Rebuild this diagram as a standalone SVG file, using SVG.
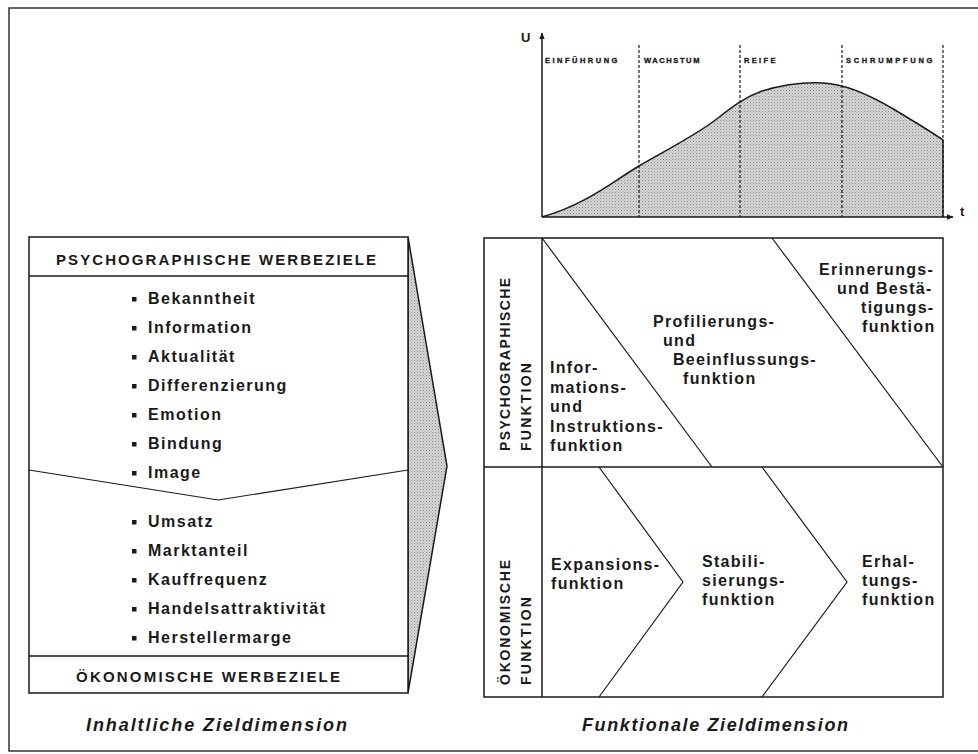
<svg xmlns="http://www.w3.org/2000/svg" width="978" height="754" viewBox="0 0 978 754">
<style>
  .ln{fill:none;stroke:#1a1a1a;stroke-width:1.5}
  .thin{fill:none;stroke:#1a1a1a;stroke-width:1.2}
  .dash{fill:none;stroke:#1a1a1a;stroke-width:1.2;stroke-dasharray:3 2}
  .box{fill:#fff;stroke:#1a1a1a;stroke-width:1.5}
  text{font-family:"Liberation Sans",Arial,sans-serif;font-weight:bold;fill:#1a1a1a}
  .hd{font-size:15px}
  .it{font-size:16px;letter-spacing:1.5px}
  .fn{font-size:16px;letter-spacing:1.3px}
  .ph{font-size:7.5px;letter-spacing:2.6px;stroke:#1a1a1a;stroke-width:0.35}
  .vl{font-size:14px}
  .ti{font-size:18px;font-style:italic}
  .ax{font-size:13px}
</style>
<defs>
  <pattern id="stip" width="3" height="3" patternUnits="userSpaceOnUse">
    <rect width="3" height="3" fill="#d6d6d6"/>
    <rect x="0" y="0" width="1" height="1" fill="#8c8c8c"/>
    <rect x="1.5" y="1.5" width="1" height="1" fill="#a8a8a8"/>
  </pattern>
  <marker id="arr" viewBox="0 0 10 10" refX="9" refY="5" markerWidth="7" markerHeight="7" orient="auto" markerUnits="userSpaceOnUse">
    <path d="M0,1 L10,5 L0,9 Z" fill="#1a1a1a"/>
  </marker>
</defs>

<rect x="9" y="8" width="980" height="743" fill="none" stroke="#333" stroke-width="1.5"/>

<g id="lifecycle-chart">
  <path d="M542,217 C585,205 612,182 639,166 C668,149 698,134 718,118 C732,107 745,97 762,91 C782,85 802,82 823,83 C846,84 870,95 895,110 C915,122 930,131 943,140 L943,217 Z" fill="url(#stip)" stroke="none"/>
  <path d="M542,217 C585,205 612,182 639,166 C668,149 698,134 718,118 C732,107 745,97 762,91 C782,85 802,82 823,83 C846,84 870,95 895,110 C915,122 930,131 943,140 L943,217" class="ln"/>
  <line x1="639" y1="45" x2="639" y2="217" class="dash"/>
  <line x1="740" y1="45" x2="740" y2="217" class="dash"/>
  <line x1="842" y1="45" x2="842" y2="217" class="dash"/>
  <line x1="943" y1="45" x2="943" y2="217" class="dash"/>
  <line x1="542" y1="217" x2="542" y2="33" class="ln" stroke-width="2" marker-end="url(#arr)"/>
  <line x1="542" y1="217" x2="953" y2="217" class="ln" stroke-width="2" marker-end="url(#arr)"/>
  <text class="ax" x="521" y="42">U</text>
  <text class="ax" x="960" y="216">t</text>
  <text class="ph" x="545" y="63" textLength="75" lengthAdjust="spacing">EINFÜHRUNG</text>
  <text class="ph" x="644" y="63" textLength="58" lengthAdjust="spacing">WACHSTUM</text>
  <text class="ph" x="744" y="63" textLength="34" lengthAdjust="spacing">REIFE</text>
  <text class="ph" x="846" y="63" textLength="89" lengthAdjust="spacing">SCHRUMPFUNG</text>
</g>

<g id="arrow-wedge">
  <path d="M408,237 L447,466 L408,693 Z" fill="url(#stip)" stroke="#1a1a1a" stroke-width="1.5"/>
</g>

<g id="inhaltliche-box">
  <rect x="29" y="237" width="379" height="456" class="box"/>
  <line x1="29" y1="276" x2="408" y2="276" class="ln"/>
  <polyline points="29,470 218,500 408,470" class="thin"/>
  <line x1="29" y1="656" x2="408" y2="656" class="ln"/>
  <text class="hd" x="56" y="265" textLength="320" lengthAdjust="spacing">PSYCHOGRAPHISCHE WERBEZIELE</text>
  <text class="hd" x="76" y="682" textLength="264" lengthAdjust="spacing">ÖKONOMISCHE WERBEZIELE</text>
  <g fill="#1a1a1a">
    <rect x="132" y="297" width="4.5" height="4.5"/>
    <rect x="132" y="326" width="4.5" height="4.5"/>
    <rect x="132" y="355" width="4.5" height="4.5"/>
    <rect x="132" y="384" width="4.5" height="4.5"/>
    <rect x="132" y="413" width="4.5" height="4.5"/>
    <rect x="132" y="442" width="4.5" height="4.5"/>
    <rect x="132" y="471" width="4.5" height="4.5"/>
    <rect x="132" y="520" width="4.5" height="4.5"/>
    <rect x="132" y="549" width="4.5" height="4.5"/>
    <rect x="132" y="578" width="4.5" height="4.5"/>
    <rect x="132" y="607" width="4.5" height="4.5"/>
    <rect x="132" y="636" width="4.5" height="4.5"/>
  </g>
  <text class="it" x="148" y="304">Bekanntheit</text>
  <text class="it" x="148" y="333">Information</text>
  <text class="it" x="148" y="362">Aktualität</text>
  <text class="it" x="148" y="391">Differenzierung</text>
  <text class="it" x="148" y="420">Emotion</text>
  <text class="it" x="148" y="449">Bindung</text>
  <text class="it" x="148" y="478">Image</text>
  <text class="it" x="148" y="527">Umsatz</text>
  <text class="it" x="148" y="556">Marktanteil</text>
  <text class="it" x="148" y="585">Kauffrequenz</text>
  <text class="it" x="148" y="614">Handelsattraktivität</text>
  <text class="it" x="148" y="643">Herstellermarge</text>
  <text class="ti" x="86" y="731" textLength="261" lengthAdjust="spacing">Inhaltliche Zieldimension</text>
</g>

<g id="funktionale-box">
  <rect x="484" y="238" width="459" height="459" class="box"/>
  <line x1="542" y1="238" x2="542" y2="697" class="ln"/>
  <line x1="484" y1="467" x2="943" y2="467" class="ln"/>
  <line x1="542" y1="238" x2="712" y2="467" class="thin"/>
  <line x1="772" y1="238" x2="943" y2="467" class="thin"/>
  <polyline points="599,467 683,582 599,697" class="thin"/>
  <polyline points="762,467 847,582 762,697" class="thin"/>

  <text class="vl" transform="translate(510,451) rotate(-90)" textLength="173" lengthAdjust="spacing">PSYCHOGRAPHISCHE</text>
  <text class="vl" transform="translate(531,451) rotate(-90)" textLength="88" lengthAdjust="spacing">FUNKTION</text>
  <text class="vl" transform="translate(510,685) rotate(-90)" textLength="125" lengthAdjust="spacing">ÖKONOMISCHE</text>
  <text class="vl" transform="translate(531,685) rotate(-90)" textLength="88" lengthAdjust="spacing">FUNKTION</text>

  <text class="fn" x="550" y="373">Infor-</text>
  <text class="fn" x="550" y="392.5">mations-</text>
  <text class="fn" x="550" y="412">und</text>
  <text class="fn" x="550" y="431.5">Instruktions-</text>
  <text class="fn" x="550" y="451">funktion</text>

  <text class="fn" x="653" y="327">Profilierungs-</text>
  <text class="fn" x="663" y="346">und</text>
  <text class="fn" x="673" y="365">Beeinflussungs-</text>
  <text class="fn" x="683" y="384">funktion</text>

  <text class="fn" x="819" y="275">Erinnerungs-</text>
  <text class="fn" x="837" y="294">und Bestä-</text>
  <text class="fn" x="861" y="313">tigungs-</text>
  <text class="fn" x="862" y="332">funktion</text>

  <text class="fn" x="551" y="570">Expansions-</text>
  <text class="fn" x="551" y="589">funktion</text>

  <text class="fn" x="702" y="567">Stabili-</text>
  <text class="fn" x="702" y="586">sierungs-</text>
  <text class="fn" x="702" y="605">funktion</text>

  <text class="fn" x="862" y="567">Erhal-</text>
  <text class="fn" x="862" y="586">tungs-</text>
  <text class="fn" x="862" y="605">funktion</text>

  <text class="ti" x="582" y="731" textLength="266" lengthAdjust="spacing">Funktionale Zieldimension</text>
</g>
</svg>
